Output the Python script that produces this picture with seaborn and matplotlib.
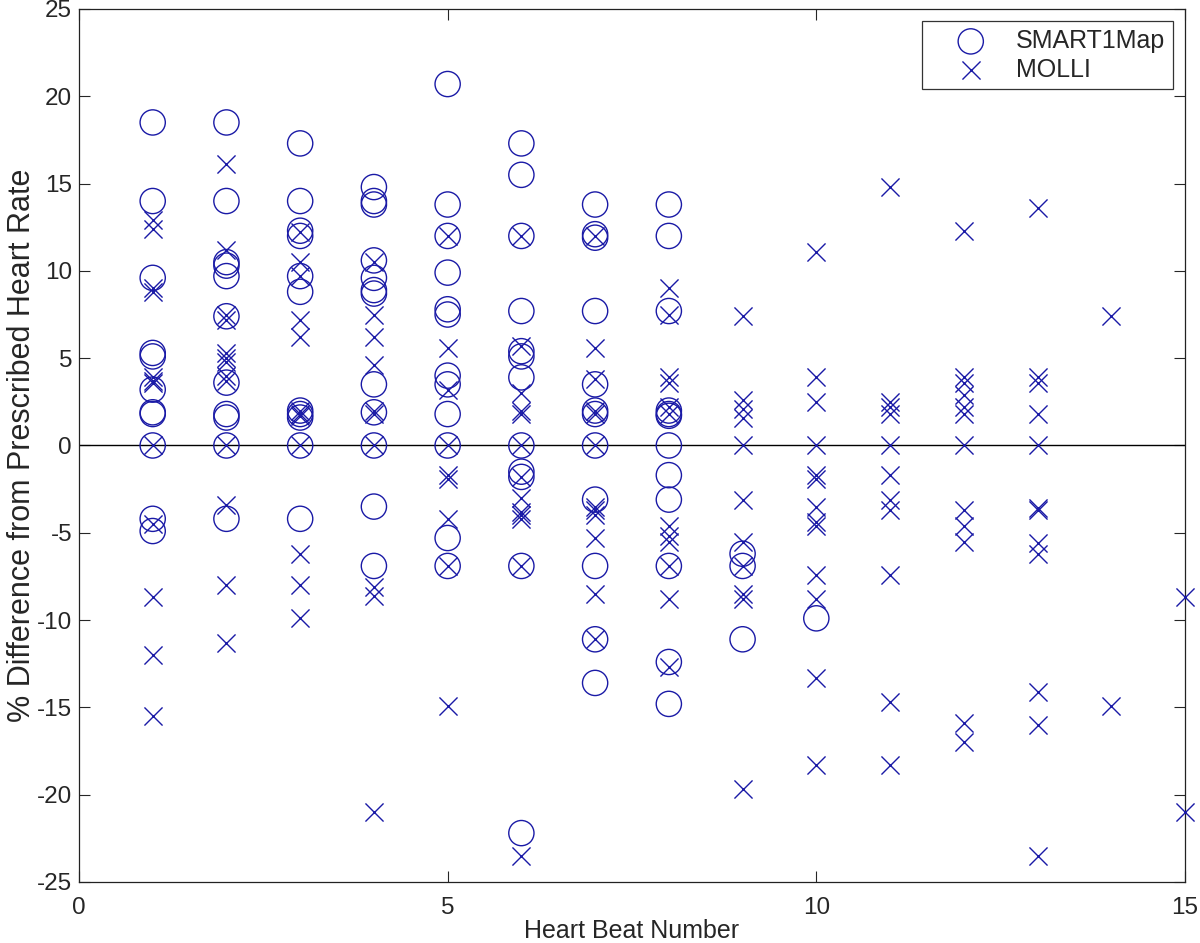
import numpy as np
import pandas as pd
import matplotlib
matplotlib.use("Agg")
import matplotlib.pyplot as plt
import seaborn as sns

# heart beat numbers (x) and % difference values
beats = list(range(1, 16))

smart_vals = [
    [18.5, 14.0, 9.6, 5.3, 5.1, 3.2, 1.9, 1.8, 0, -4.2, -4.9],
    [18.5, 14.0, 10.5, 10.3, 9.7, 7.4, 3.6, 1.8, 1.6, 0, -4.2],
    [17.3, 14.0, 12.3, 12.0, 9.7, 8.8, 2.0, 1.8, 1.6, 0, -4.2],
    [14.8, 14.0, 13.8, 10.6, 9.6, 8.9, 8.7, 3.5, 1.9, 0, -3.5, -6.9],
    [20.7, 13.8, 12.0, 9.9, 7.8, 7.5, 4.0, 3.5, 1.8, 0, -5.3, -6.9],
    [17.3, 15.5, 12.0, 7.7, 5.4, 5.1, 3.9, 0, -1.5, -1.8, -6.9, -22.2],
    [13.8, 12.1, 11.9, 7.7, 3.5, 2.0, 1.8, 0, -3.1, -6.9, -11.1, -13.6],
    [13.8, 12.0, 7.7, 2.0, 1.8, 1.7, 0, -1.7, -3.1, -6.9, -12.4, -14.8],
    [-6.2, -6.9, -11.1],
    [-9.9],
    [], [], [], [], [],
]

molli_vals = [
    [12.9, 12.4, 9.0, 8.8, 3.9, 3.7, 3.6, 0, -4.5, -8.7, -12.0, -15.5],
    [16.1, 11.2, 7.5, 7.2, 5.3, 5.0, 4.8, 4.0, 3.7, 0, -3.4, -8.0, -11.3],
    [12.2, 10.5, 9.7, 7.2, 6.2, 2.0, 1.8, 1.7, 0, -6.2, -8.0, -9.9],
    [10.5, 7.5, 6.2, 4.6, 2.0, 1.8, 0, -8.1, -8.6, -21.0],
    [12.0, 5.6, 3.2, 0, -1.7, -1.9, -4.2, -6.9, -14.9],
    [12.0, 5.7, 3.0, 2.0, 1.8, 0, -1.8, -3.0, -3.8, -4.0, -4.2, -6.9, -23.5],
    [12.0, 5.6, 3.8, 2.0, 1.8, 0, -3.5, -3.7, -4.0, -5.3, -8.5, -11.1],
    [9.0, 7.5, 3.9, 3.6, 2.2, 1.8, -4.6, -5.2, -5.5, -6.9, -8.8, -12.7],
    [7.4, 2.6, 2.1, 1.6, 0, -3.1, -5.5, -6.9, -8.5, -8.8, -19.7],
    [11.1, 3.9, 2.5, 0, -1.7, -1.9, -3.5, -4.4, -4.6, -7.4, -8.8, -13.3, -18.3],
    [14.8, 2.5, 2.2, 1.8, 0, -1.7, -3.1, -3.7, -7.4, -14.7, -18.3],
    [12.3, 3.9, 3.6, 2.9, 2.2, 1.8, 0, -3.7, -4.6, -5.5, -15.9, -17.0],
    [13.6, 3.9, 3.6, 1.8, 0, -3.6, -3.7, -5.6, -6.2, -14.1, -16.0, -23.5],
    [7.4, -14.9],
    [-8.7, -21.0],
]


def to_frame(vals):
    rows = []
    for b, ys in zip(beats, vals):
        for y in ys:
            rows.append((b, y))
    return pd.DataFrame(rows, columns=["beat", "diff"])


smart = to_frame(smart_vals)
molli = to_frame(molli_vals)

sns.set_style("white")
plt.rcParams['font.family'] = ['Liberation Sans', 'DejaVu Sans']
plt.rcParams['axes.unicode_minus'] = False

blue = "#1a1aa6"
fs = 17.5

fig = plt.figure(figsize=(12, 9.43), dpi=100)
ax = fig.add_axes([0.0658, 0.0647, 0.9217, 0.9258])

sns.scatterplot(data=smart, x="beat", y="diff", marker="o", s=330,
                facecolor="none", edgecolor=blue, linewidth=1.0,
                label="SMART1Map", ax=ax, clip_on=False, zorder=3)
sns.scatterplot(data=molli, x="beat", y="diff", marker="x", s=170,
                color=blue, linewidth=1.0, label="MOLLI", ax=ax,
                clip_on=False, zorder=3)

ax.axhline(0, color="black", linewidth=1.0, zorder=1)

ax.set_xlim(0, 15)
ax.set_ylim(-25, 25)
ax.set_xticks([0, 5, 10, 15])
ax.set_yticks(np.arange(-25, 26, 5))
ax.tick_params(direction="in", length=8, width=0.8, labelsize=fs,
               top=True, right=True, bottom=True, left=True, pad=5)
ax.tick_params(axis="x", pad=11)
for sp in ax.spines.values():
    sp.set_color("#222222")
    sp.set_linewidth(0.9)

ax.set_xlabel("Heart Beat Number", fontsize=18, labelpad=0)
ax.set_ylabel("% Difference from Prescribed Heart Rate", fontsize=22, labelpad=0)

leg = ax.legend(loc="upper right", fontsize=18, frameon=True, fancybox=False,
                edgecolor="black", borderpad=0.3, handletextpad=0.15,
                handlelength=3.3, labelspacing=0.2, borderaxespad=0.5)
leg.get_frame().set_linewidth(0.9)

plt.savefig("out.png", dpi=100)
